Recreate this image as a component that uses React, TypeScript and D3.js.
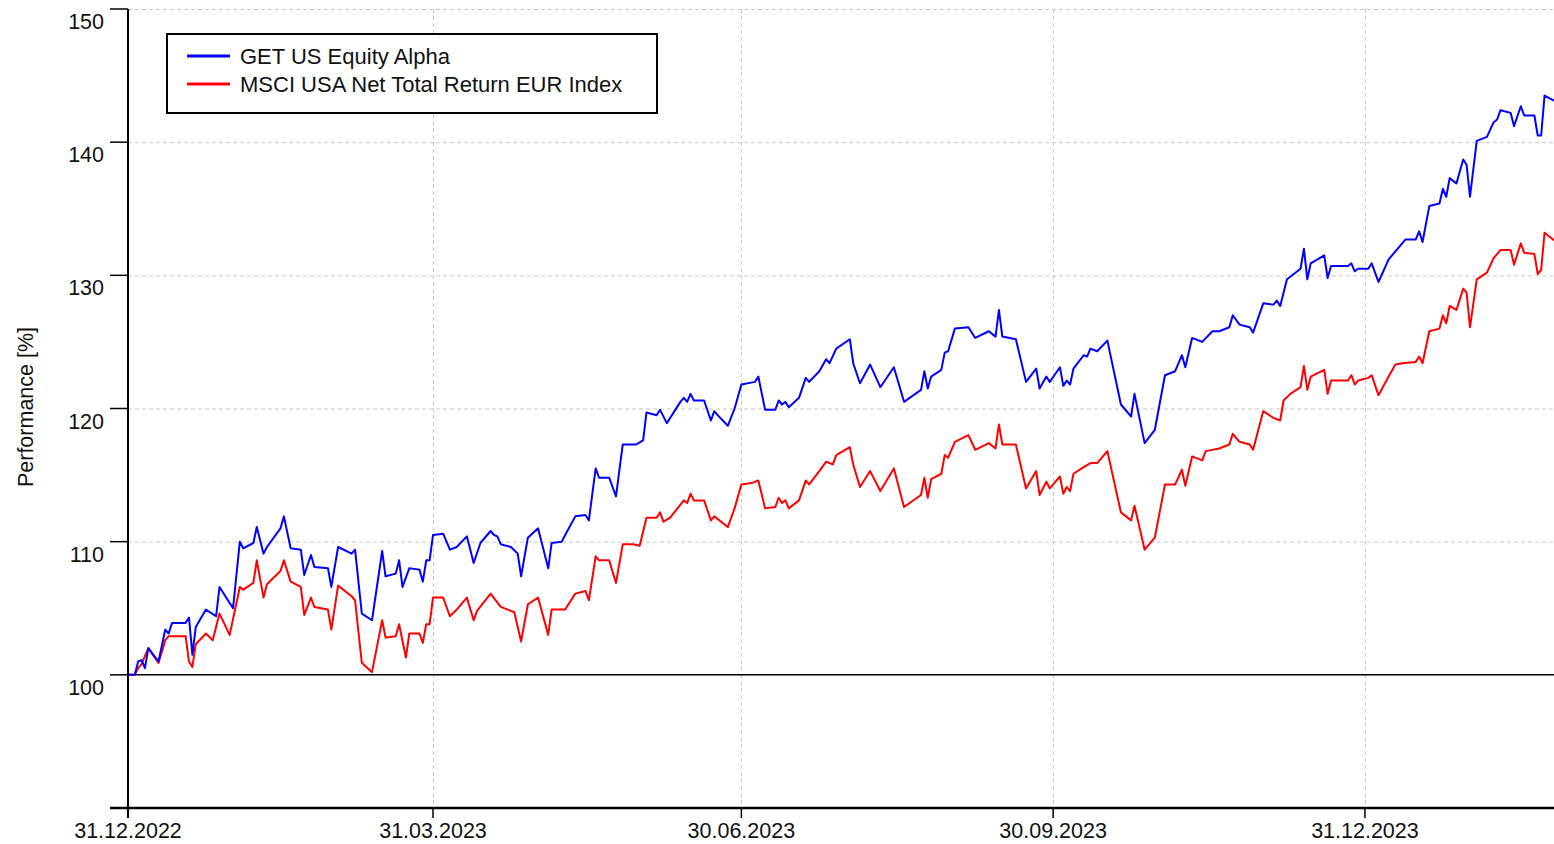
import React, { useRef, useEffect } from 'react';
import * as d3 from 'd3';

// series labels / colours
const seriesNames = ['GET US Equity Alpha', 'MSCI USA Net Total Return EUR Index'];
const seriesColors = ['#0000ff', '#ff0000'];

const xTickDates = ['2022-12-31', '2023-03-31', '2023-06-30', '2023-09-30', '2023-12-31'];
const yTickValues = [100, 110, 120, 130, 140, 150];

// GET US Equity Alpha (indexed, 100 = 31.12.2022)
const gueDates = [
  '2022-12-31', '2023-01-02', '2023-01-03', '2023-01-04', '2023-01-05', '2023-01-06', '2023-01-09', '2023-01-11',
  '2023-01-12', '2023-01-13', '2023-01-17', '2023-01-18', '2023-01-19', '2023-01-20', '2023-01-23', '2023-01-26',
  '2023-01-27', '2023-01-31', '2023-02-02', '2023-02-03', '2023-02-06', '2023-02-07', '2023-02-09', '2023-02-10',
  '2023-02-14', '2023-02-15', '2023-02-17', '2023-02-20', '2023-02-21', '2023-02-23', '2023-02-24', '2023-02-28',
  '2023-03-01', '2023-03-03', '2023-03-07', '2023-03-08', '2023-03-10', '2023-03-13', '2023-03-16', '2023-03-17',
  '2023-03-20', '2023-03-21', '2023-03-22', '2023-03-24', '2023-03-27', '2023-03-28', '2023-03-29', '2023-03-30',
  '2023-03-31', '2023-04-03', '2023-04-05', '2023-04-07', '2023-04-10', '2023-04-12', '2023-04-14', '2023-04-17',
  '2023-04-18', '2023-04-19', '2023-04-20', '2023-04-23', '2023-04-25', '2023-04-26', '2023-04-28', '2023-05-01',
  '2023-05-04', '2023-05-05', '2023-05-08', '2023-05-09', '2023-05-12', '2023-05-15', '2023-05-16', '2023-05-18',
  '2023-05-19', '2023-05-22', '2023-05-24', '2023-05-26', '2023-05-30', '2023-06-01', '2023-06-02', '2023-06-05',
  '2023-06-06', '2023-06-08', '2023-06-12', '2023-06-13', '2023-06-14', '2023-06-15', '2023-06-16', '2023-06-19',
  '2023-06-21', '2023-06-22', '2023-06-23', '2023-06-26', '2023-06-28', '2023-06-30', '2023-07-04', '2023-07-05',
  '2023-07-07', '2023-07-10', '2023-07-11', '2023-07-12', '2023-07-13', '2023-07-14', '2023-07-17', '2023-07-19',
  '2023-07-20', '2023-07-23', '2023-07-25', '2023-07-26', '2023-07-28', '2023-08-01', '2023-08-02', '2023-08-04',
  '2023-08-07', '2023-08-10', '2023-08-14', '2023-08-17', '2023-08-22', '2023-08-23', '2023-08-24', '2023-08-25',
  '2023-08-28', '2023-08-29', '2023-08-30', '2023-09-01', '2023-09-05', '2023-09-07', '2023-09-11', '2023-09-13',
  '2023-09-14', '2023-09-15', '2023-09-19', '2023-09-22', '2023-09-25', '2023-09-26', '2023-09-28', '2023-09-29',
  '2023-10-02', '2023-10-03', '2023-10-04', '2023-10-05', '2023-10-06', '2023-10-09', '2023-10-10', '2023-10-11',
  '2023-10-13', '2023-10-16', '2023-10-20', '2023-10-23', '2023-10-24', '2023-10-27', '2023-10-30', '2023-11-02',
  '2023-11-05', '2023-11-07', '2023-11-08', '2023-11-10', '2023-11-13', '2023-11-16', '2023-11-18', '2023-11-21',
  '2023-11-22', '2023-11-24', '2023-11-27', '2023-11-28', '2023-12-01', '2023-12-04', '2023-12-05', '2023-12-06',
  '2023-12-08', '2023-12-12', '2023-12-13', '2023-12-14', '2023-12-15', '2023-12-19', '2023-12-20', '2023-12-21',
  '2023-12-26', '2023-12-27', '2023-12-28', '2023-12-29', '2024-01-01', '2024-01-02', '2024-01-04', '2024-01-07',
  '2024-01-11', '2024-01-12', '2024-01-15', '2024-01-16', '2024-01-17', '2024-01-19', '2024-01-22', '2024-01-23',
  '2024-01-24', '2024-01-25', '2024-01-27', '2024-01-29', '2024-01-30', '2024-01-31', '2024-02-02', '2024-02-05',
  '2024-02-07', '2024-02-08', '2024-02-09', '2024-02-12', '2024-02-13', '2024-02-15', '2024-02-16', '2024-02-19',
  '2024-02-20', '2024-02-21', '2024-02-22', '2024-02-25',
];
const gueValues = [
  100.0, 100.0, 101.0, 101.1, 100.5, 102.0, 101.0, 103.4,
  103.1, 103.9, 103.9, 104.3, 101.5, 103.6, 104.9, 104.4,
  106.6, 105.0, 110.0, 109.5, 109.9, 111.1, 109.1, 109.6,
  111.0, 111.9, 109.5, 109.4, 107.5, 109.0, 108.1, 108.0,
  106.6, 109.6, 109.1, 109.4, 104.6, 104.1, 109.3, 107.4,
  107.6, 108.6, 106.6, 108.0, 107.9, 107.0, 108.6, 108.6,
  110.5, 110.6, 109.4, 109.6, 110.4, 108.4, 109.9, 110.8,
  110.5, 110.4, 109.8, 109.6, 109.1, 107.4, 110.3, 111.0,
  108.0, 109.9, 110.0, 110.5, 111.9, 112.0, 111.6, 115.5,
  114.8, 114.8, 113.4, 117.3, 117.3, 117.6, 119.7, 119.5,
  119.9, 118.9, 120.5, 120.8, 120.5, 121.1, 120.6, 120.6,
  119.1, 119.8, 119.5, 118.7, 120.0, 121.8, 122.0, 122.4,
  119.9, 119.9, 120.6, 120.3, 120.5, 120.1, 120.8, 122.3,
  122.0, 122.8, 123.7, 123.4, 124.5, 125.2, 123.4, 121.9,
  123.3, 121.6, 123.1, 120.5, 121.4, 122.8, 121.5, 122.4,
  122.9, 124.2, 124.3, 126.0, 126.1, 125.3, 125.8, 125.4,
  127.4, 125.4, 125.2, 122.0, 123.0, 121.5, 122.4, 122.0,
  123.1, 121.7, 122.1, 121.8, 123.0, 124.0, 123.9, 124.5,
  124.3, 125.1, 120.3, 119.4, 121.1, 117.4, 118.4, 122.5,
  122.8, 124.0, 123.1, 125.3, 125.0, 125.8, 125.8, 126.1,
  127.0, 126.3, 126.1, 125.7, 127.9, 127.8, 128.1, 127.7,
  129.7, 130.5, 132.0, 129.7, 130.9, 131.5, 129.8, 130.7,
  130.7, 130.9, 130.3, 130.5, 130.5, 130.9, 129.5, 131.2,
  132.4, 132.7, 132.7, 133.3, 132.5, 135.2, 135.4, 136.5,
  135.9, 137.3, 136.9, 138.7, 138.3, 135.9, 140.1, 140.4,
  141.5, 141.7, 142.4, 142.2, 141.2, 142.7, 142.0, 142.0,
  140.5, 140.5, 143.5, 143.1,
];

// MSCI USA Net Total Return EUR Index (indexed, 100 = 31.12.2022)
const msciDates = [
  '2022-12-31', '2023-01-02', '2023-01-03', '2023-01-04', '2023-01-06', '2023-01-09', '2023-01-11', '2023-01-12',
  '2023-01-17', '2023-01-18', '2023-01-19', '2023-01-20', '2023-01-23', '2023-01-25', '2023-01-27', '2023-01-30',
  '2023-02-02', '2023-02-03', '2023-02-06', '2023-02-07', '2023-02-09', '2023-02-10', '2023-02-14', '2023-02-15',
  '2023-02-17', '2023-02-20', '2023-02-21', '2023-02-23', '2023-02-24', '2023-02-28', '2023-03-01', '2023-03-03',
  '2023-03-07', '2023-03-08', '2023-03-10', '2023-03-13', '2023-03-16', '2023-03-17', '2023-03-20', '2023-03-21',
  '2023-03-23', '2023-03-24', '2023-03-27', '2023-03-28', '2023-03-29', '2023-03-30', '2023-03-31', '2023-04-03',
  '2023-04-05', '2023-04-07', '2023-04-10', '2023-04-12', '2023-04-13', '2023-04-17', '2023-04-20', '2023-04-24',
  '2023-04-26', '2023-04-28', '2023-05-01', '2023-05-04', '2023-05-05', '2023-05-09', '2023-05-12', '2023-05-15',
  '2023-05-16', '2023-05-18', '2023-05-19', '2023-05-22', '2023-05-24', '2023-05-26', '2023-05-29', '2023-05-31',
  '2023-06-02', '2023-06-05', '2023-06-06', '2023-06-07', '2023-06-09', '2023-06-13', '2023-06-14', '2023-06-15',
  '2023-06-16', '2023-06-19', '2023-06-21', '2023-06-22', '2023-06-26', '2023-06-28', '2023-06-30', '2023-07-03',
  '2023-07-05', '2023-07-07', '2023-07-10', '2023-07-11', '2023-07-12', '2023-07-13', '2023-07-14', '2023-07-17',
  '2023-07-19', '2023-07-20', '2023-07-23', '2023-07-25', '2023-07-27', '2023-07-28', '2023-08-01', '2023-08-02',
  '2023-08-04', '2023-08-07', '2023-08-10', '2023-08-14', '2023-08-17', '2023-08-22', '2023-08-23', '2023-08-24',
  '2023-08-25', '2023-08-28', '2023-08-29', '2023-08-30', '2023-09-01', '2023-09-05', '2023-09-07', '2023-09-11',
  '2023-09-13', '2023-09-14', '2023-09-15', '2023-09-19', '2023-09-22', '2023-09-25', '2023-09-26', '2023-09-28',
  '2023-09-29', '2023-10-02', '2023-10-03', '2023-10-04', '2023-10-05', '2023-10-06', '2023-10-09', '2023-10-11',
  '2023-10-13', '2023-10-16', '2023-10-20', '2023-10-23', '2023-10-24', '2023-10-27', '2023-10-30', '2023-11-02',
  '2023-11-05', '2023-11-07', '2023-11-08', '2023-11-10', '2023-11-13', '2023-11-14', '2023-11-18', '2023-11-21',
  '2023-11-22', '2023-11-24', '2023-11-27', '2023-11-28', '2023-12-01', '2023-12-04', '2023-12-06', '2023-12-07',
  '2023-12-09', '2023-12-12', '2023-12-13', '2023-12-14', '2023-12-15', '2023-12-19', '2023-12-20', '2023-12-21',
  '2023-12-26', '2023-12-27', '2023-12-28', '2023-12-29', '2024-01-01', '2024-01-02', '2024-01-04', '2024-01-07',
  '2024-01-09', '2024-01-11', '2024-01-15', '2024-01-16', '2024-01-17', '2024-01-19', '2024-01-22', '2024-01-23',
  '2024-01-24', '2024-01-25', '2024-01-27', '2024-01-29', '2024-01-30', '2024-01-31', '2024-02-02', '2024-02-05',
  '2024-02-07', '2024-02-09', '2024-02-12', '2024-02-13', '2024-02-15', '2024-02-16', '2024-02-19', '2024-02-20',
  '2024-02-21', '2024-02-22', '2024-02-25',
];
const msciValues = [
  100.0, 100.0, 100.5, 100.8, 102.0, 100.9, 102.6, 102.9,
  102.9, 101.0, 100.6, 102.3, 103.1, 102.6, 104.6, 103.0,
  106.6, 106.4, 106.9, 108.6, 105.8, 106.8, 107.8, 108.6,
  107.0, 106.6, 104.5, 105.8, 105.1, 104.9, 103.4, 106.7,
  105.9, 105.6, 100.9, 100.2, 104.1, 102.8, 102.9, 103.8,
  101.3, 103.1, 103.1, 102.4, 103.8, 103.8, 105.8, 105.8,
  104.4, 104.9, 105.8, 104.1, 104.8, 106.1, 105.1, 104.7,
  102.5, 105.3, 105.8, 103.0, 104.9, 104.9, 106.1, 106.3,
  105.6, 108.9, 108.6, 108.6, 106.9, 109.8, 109.8, 109.7,
  111.8, 111.8, 112.2, 111.5, 111.8, 113.1, 112.9, 113.6,
  113.1, 113.1, 111.6, 111.9, 111.1, 112.5, 114.3, 114.4,
  114.6, 112.5, 112.6, 113.3, 112.9, 113.1, 112.5, 113.1,
  114.6, 114.3, 115.3, 116.0, 115.8, 116.5, 117.1, 115.8,
  114.1, 115.3, 113.8, 115.5, 112.6, 113.5, 114.8, 113.3,
  114.7, 115.1, 116.5, 116.3, 117.5, 118.0, 116.9, 117.4,
  117.0, 118.8, 117.3, 117.3, 114.0, 115.3, 113.5, 114.5,
  114.0, 114.9, 113.6, 114.1, 113.8, 115.1, 115.6, 115.9,
  115.9, 116.8, 112.2, 111.6, 112.7, 109.4, 110.3, 114.3,
  114.3, 115.4, 114.2, 116.4, 116.1, 116.8, 117.0, 117.3,
  118.1, 117.5, 117.3, 116.9, 119.8, 119.3, 119.1, 120.6,
  121.1, 121.6, 123.2, 121.4, 122.4, 122.9, 121.1, 122.1,
  122.1, 122.5, 121.8, 122.1, 122.3, 122.5, 121.0, 122.4,
  123.3, 123.4, 123.5, 123.9, 123.4, 125.8, 126.0, 127.0,
  126.4, 127.7, 127.4, 129.0, 128.7, 126.1, 129.7, 130.2,
  131.3, 131.9, 131.9, 130.8, 132.4, 131.7, 131.6, 130.1,
  130.4, 133.2, 132.6,
];

const FONT = "'Liberation Sans', Arial, sans-serif";

const App = () => {
  const svgRef = useRef<SVGSVGElement>(null);

  useEffect(() => {
    if (!svgRef.current) return;
    const width = 1554;
    const height = 844;
    const left = 128;
    const top = 9;
    const bottom = 808;

    const svg = d3.select(svgRef.current);
    svg.selectAll('*').remove();
    svg.attr('width', width).attr('height', height);

    const parse = d3.utcParse('%Y-%m-%d');
    const x = d3.scaleUtc()
      .domain([parse('2022-12-31') as Date, new Date(Date.UTC(2024, 1, 24, 19))])
      .range([left, width]);
    const y = d3.scaleLinear().domain([90, 150]).range([bottom, top]);

    // grid
    const grid = svg.append('g').attr('stroke', '#c8c8c8').attr('stroke-width', 1).attr('stroke-dasharray', '4,3');
    grid.selectAll('line.gy')
      .data(yTickValues.filter(v => v !== 100))
      .enter().append('line')
      .attr('x1', left).attr('x2', width)
      .attr('y1', d => y(d) + 0.5).attr('y2', d => y(d) + 0.5);
    grid.selectAll('line.gx')
      .data(xTickDates.slice(1))
      .enter().append('line')
      .attr('x1', d => Math.round(x(parse(d) as Date)) + 0.5).attr('x2', d => Math.round(x(parse(d) as Date)) + 0.5)
      .attr('y1', top).attr('y2', bottom);

    // 100 baseline
    svg.append('line')
      .attr('x1', left).attr('x2', width)
      .attr('y1', y(100)).attr('y2', y(100))
      .attr('stroke', '#000').attr('stroke-width', 1.5);

    // series
    const line = d3.line<[Date, number]>()
      .x(d => x(d[0]))
      .y(d => y(d[1]));
    const series = [
      gueDates.map((d, i) => [parse(d), gueValues[i]] as [Date, number]),
      msciDates.map((d, i) => [parse(d), msciValues[i]] as [Date, number]),
    ];
    svg.append('defs').append('clipPath').attr('id', 'plot')
      .append('rect').attr('x', left).attr('y', top).attr('width', width - left).attr('height', bottom - top);
    const lines = svg.append('g').attr('clip-path', 'url(#plot)');
    // draw index first so fund is on top
    [1, 0].forEach(k => {
      lines.append('path')
        .datum(series[k])
        .attr('fill', 'none')
        .attr('stroke', seriesColors[k])
        .attr('stroke-width', 2)
        .attr('stroke-linejoin', 'round')
        .attr('d', line);
    });

    // axes
    const axes = svg.append('g').attr('stroke', '#000');
    axes.append('line').attr('x1', left).attr('x2', left).attr('y1', top).attr('y2', bottom + 10).attr('stroke-width', 2);
    axes.append('line').attr('x1', 110).attr('x2', width).attr('y1', bottom).attr('y2', bottom).attr('stroke-width', 2.5);
    axes.selectAll('line.yt')
      .data(yTickValues)
      .enter().append('line')
      .attr('x1', 110).attr('x2', left)
      .attr('y1', d => y(d)).attr('y2', d => y(d))
      .attr('stroke-width', 1.5);
    axes.selectAll('line.xt')
      .data(xTickDates)
      .enter().append('line')
      .attr('x1', d => x(parse(d) as Date)).attr('x2', d => x(parse(d) as Date))
      .attr('y1', bottom).attr('y2', bottom + 10)
      .attr('stroke-width', 1.5);

    const fmt = d3.utcFormat('%d.%m.%Y');
    svg.append('g').selectAll('text')
      .data(xTickDates)
      .enter().append('text')
      .attr('x', d => x(parse(d) as Date))
      .attr('y', 838)
      .attr('text-anchor', 'middle')
      .attr('font-family', FONT)
      .attr('font-size', 21.5)
      .attr('fill', '#111')
      .text(d => fmt(parse(d) as Date));

    svg.append('g').selectAll('text')
      .data(yTickValues)
      .enter().append('text')
      .attr('x', 104)
      .attr('y', d => y(d) + 20)
      .attr('text-anchor', 'end')
      .attr('font-family', FONT)
      .attr('font-size', 21.5)
      .attr('fill', '#111')
      .text(d => d);

    svg.append('text')
      .attr('transform', 'translate(25,407) rotate(-90)')
      .attr('text-anchor', 'middle')
      .attr('dy', '0.35em')
      .attr('font-family', FONT)
      .attr('font-size', 21.5)
      .attr('fill', '#111')
      .text('Performance [%]');

    // legend
    const lg = svg.append('g');
    lg.append('rect')
      .attr('x', 167).attr('y', 34).attr('width', 490).attr('height', 79)
      .attr('fill', '#fff').attr('stroke', '#000').attr('stroke-width', 2);
    seriesNames.forEach((name, i) => {
      const cy = 56 + i * 28;
      lg.append('line')
        .attr('x1', 187).attr('x2', 230).attr('y1', cy).attr('y2', cy)
        .attr('stroke', seriesColors[i]).attr('stroke-width', 3);
      lg.append('text')
        .attr('x', 240).attr('y', cy + 8)
        .attr('font-family', FONT)
        .attr('font-size', 22)
        .attr('fill', '#111')
        .text(name);
    });
  }, []);

  return (
    <svg
      ref={svgRef}
      style={{ position: 'absolute', left: 0, top: 0, background: '#fff' }}
    />
  );
};

export default App;
